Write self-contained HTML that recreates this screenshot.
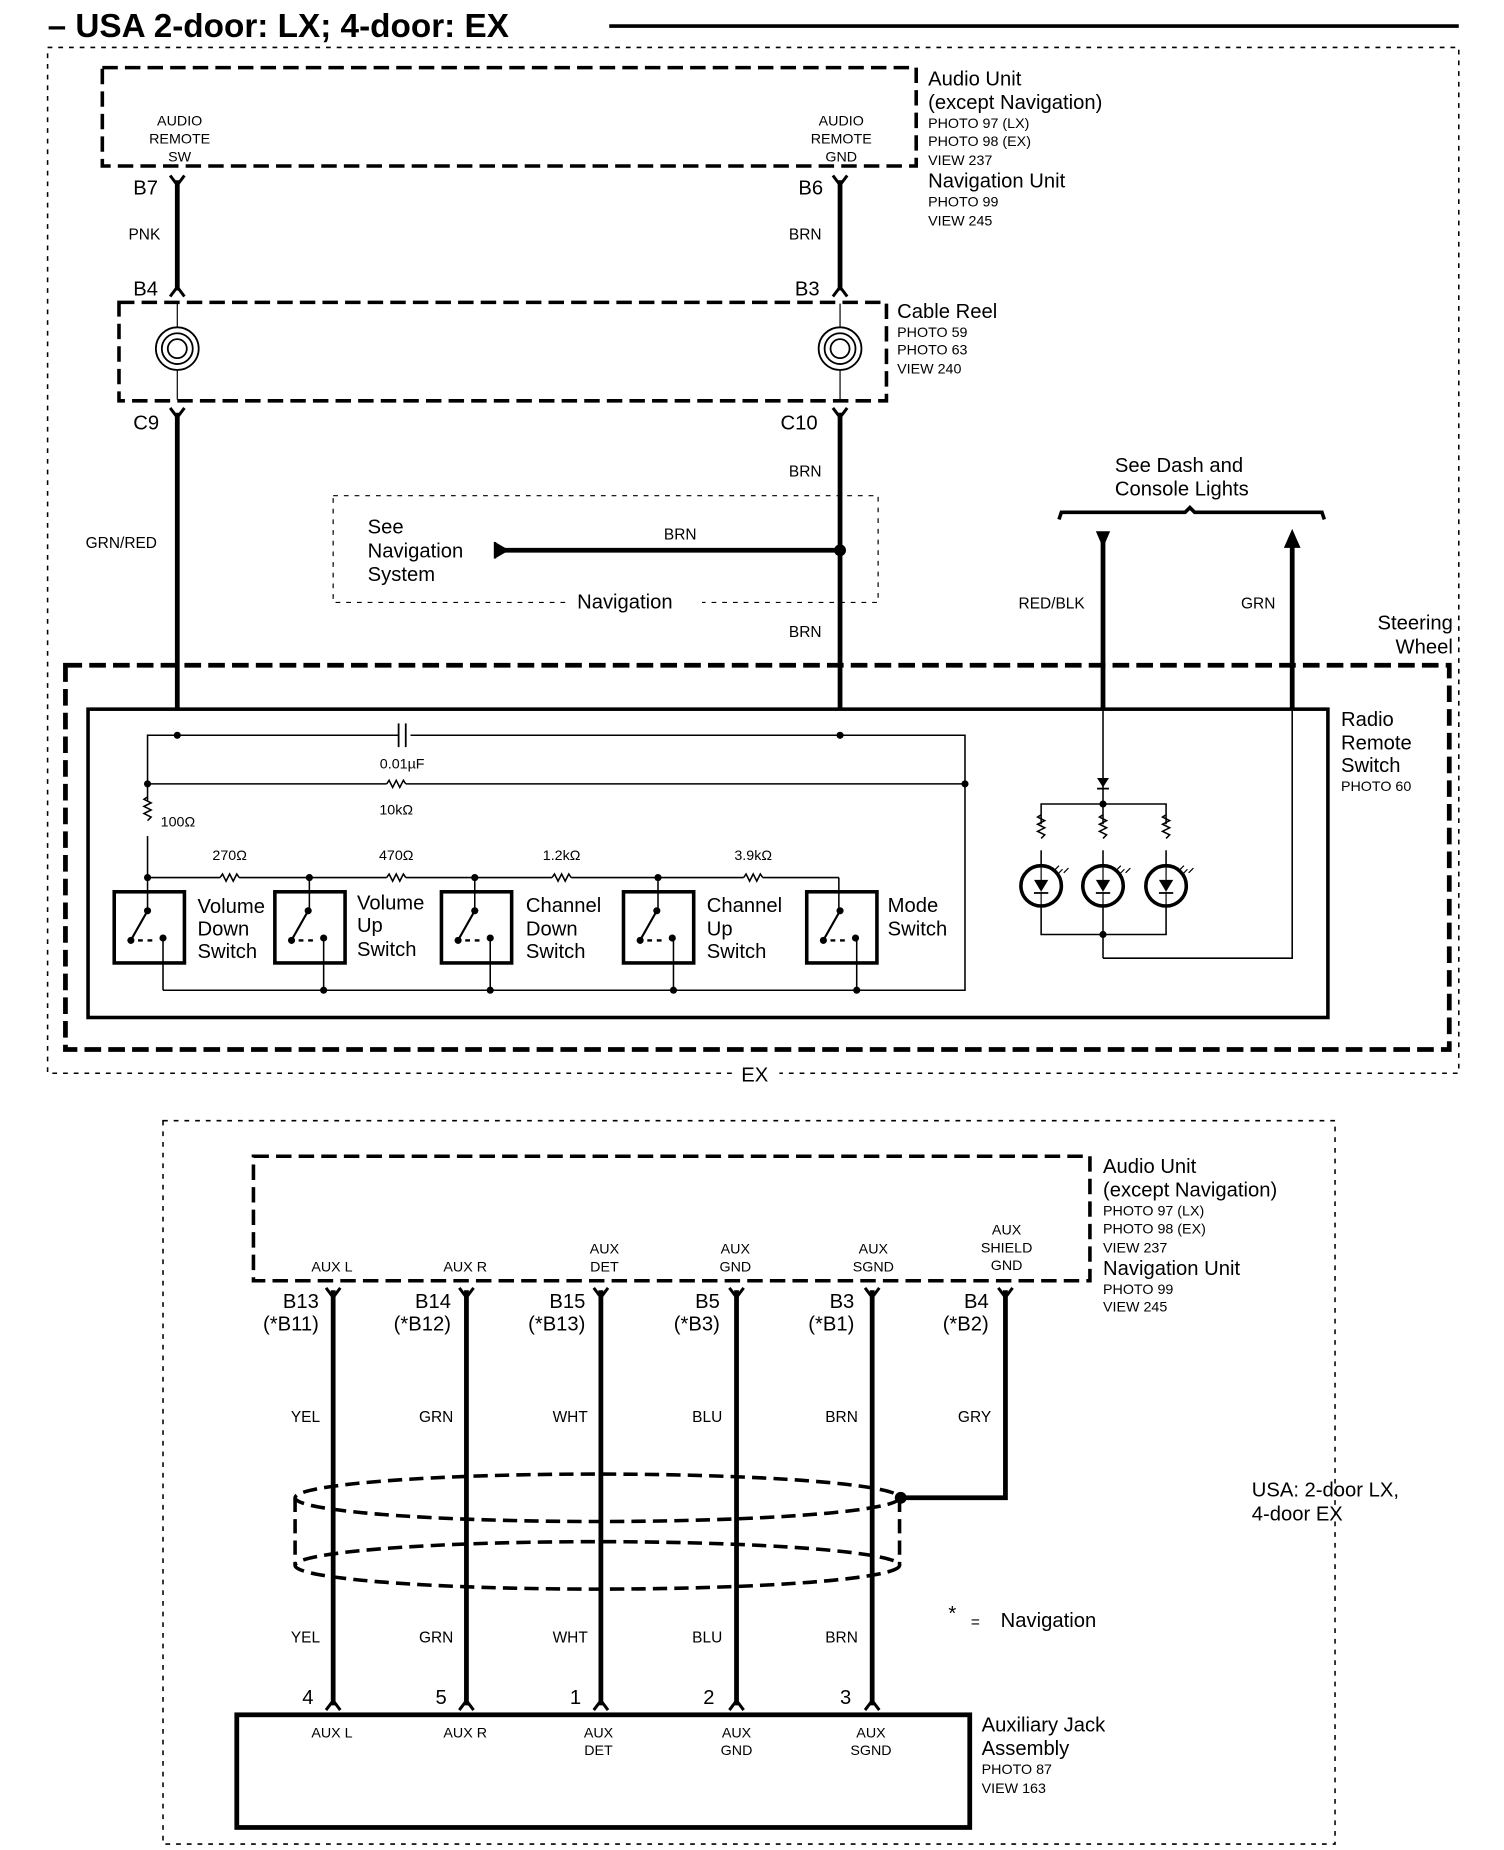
<!DOCTYPE html>
<html><head><meta charset="utf-8"><style>
html,body{margin:0;padding:0;background:#fff}
svg{display:block}
text{font-family:"Liberation Sans",sans-serif;fill:#000}
.s{font-size:12px}.m{font-size:13px}.l{font-size:17px}
</style></head><body>
<svg width="1504" height="1850" viewBox="0 0 1264 1560" preserveAspectRatio="none" xmlns="http://www.w3.org/2000/svg">
<defs>
<g id="sw">
<rect x="0" y="0" width="59" height="60" fill="none" stroke="#000" stroke-width="3"/>
<circle cx="28" cy="16" r="3"/><line x1="28" y1="16" x2="15" y2="39" stroke="#000" stroke-width="1.8"/>
<circle cx="14" cy="41" r="3"/><line x1="20" y1="41" x2="24" y2="41" stroke="#000" stroke-width="2"/><line x1="28" y1="41" x2="32" y2="41" stroke="#000" stroke-width="2"/>
<circle cx="41" cy="39" r="3"/>
</g>
<g id="spiral" fill="none" stroke="#000" stroke-width="1.5"><circle r="18"/><circle r="13"/><circle r="8"/></g>
<g id="led"><circle r="17" fill="none" stroke="#000" stroke-width="3"/><path d="M-6,-5 L6,-5 L0,5 Z"/><line x1="-6" y1="6" x2="6" y2="6" stroke="#000" stroke-width="1.5"/><line x1="0" y1="-17" x2="0" y2="-5" stroke="#000"/><line x1="0" y1="5" x2="0" y2="17" stroke="#000"/></g>
<path id="res" d="M-8,0 l2,-3 l3,6 l3,-6 l3,6 l3,-6 l2,3" fill="none" stroke="#000" stroke-width="1.3"/>
<path id="resv" d="M0,-10 l-3,2 l6,3 l-6,3 l6,3 l-6,3 l6,3 l-3,3" fill="none" stroke="#000" stroke-width="1.3"/>
<path id="ytop" d="M-6,-6 L0,2 L6,-6" fill="none" stroke="#000" stroke-width="2.5"/>
<path id="ybot" d="M-6,6 L0,-2 L6,6" fill="none" stroke="#000" stroke-width="2.5"/>
</defs>

<!-- title -->
<text x="40" y="31" style="font-size:28px;font-weight:bold">– USA 2-door: LX; 4-door: EX</text>
<line x1="512" y1="22" x2="1226" y2="22" stroke="#000" stroke-width="3"/>

<!-- outer dotted box -->
<path d="M40,40 H1226 V905 H655 M615,905 H40 V40" fill="none" stroke="#000" stroke-width="1.3" stroke-dasharray="4,5"/>
<text x="623" y="912" class="l">EX</text>

<!-- audio unit top -->
<rect x="86" y="57" width="684" height="83" fill="none" stroke="#000" stroke-width="3" stroke-dasharray="13,6"/>
<g class="s" text-anchor="middle"><text x="151" y="106">AUDIO</text><text x="151" y="121">REMOTE</text><text x="151" y="136">SW</text>
<text x="707" y="106">AUDIO</text><text x="707" y="121">REMOTE</text><text x="707" y="136">GND</text></g>
<text x="780" y="72" class="l">Audio Unit</text><text x="780" y="92" class="l">(except Navigation)</text>
<text x="780" y="108" class="s">PHOTO 97 (LX)</text><text x="780" y="123" class="s">PHOTO 98 (EX)</text><text x="780" y="139" class="s">VIEW 237</text>
<text x="780" y="158" class="l">Navigation Unit</text><text x="780" y="174" class="s">PHOTO 99</text><text x="780" y="190" class="s">VIEW 245</text>

<g stroke="#000" stroke-width="4"><line x1="149" y1="152" x2="149" y2="245"/><line x1="706" y1="152" x2="706" y2="245"/></g>
<use href="#ytop" x="149" y="154"/><use href="#ytop" x="706" y="154"/>
<use href="#ybot" x="149" y="244"/><use href="#ybot" x="706" y="244"/>
<text x="112" y="164" class="l">B7</text><text x="671" y="164" class="l">B6</text>
<text x="108" y="202" class="m">PNK</text><text x="663" y="202" class="m">BRN</text>
<text x="112" y="249" class="l">B4</text><text x="668" y="249" class="l">B3</text>

<!-- cable reel -->
<rect x="100" y="255" width="645" height="83" fill="none" stroke="#000" stroke-width="3" stroke-dasharray="13,6"/>
<use href="#spiral" x="149" y="294"/><use href="#spiral" x="706" y="294"/>
<g stroke="#000" stroke-width="1"><line x1="149" y1="256" x2="149" y2="276"/><line x1="149" y1="312" x2="149" y2="337"/><line x1="706" y1="256" x2="706" y2="276"/><line x1="706" y1="312" x2="706" y2="337"/></g>
<text x="754" y="268" class="l">Cable Reel</text><text x="754" y="284" class="s">PHOTO 59</text><text x="754" y="299" class="s">PHOTO 63</text><text x="754" y="315" class="s">VIEW 240</text>
<use href="#ytop" x="149" y="350"/><use href="#ytop" x="706" y="350"/>
<text x="112" y="362" class="l">C9</text><text x="656" y="362" class="l">C10</text>
<g stroke="#000" stroke-width="4"><line x1="149" y1="348" x2="149" y2="598"/><line x1="706" y1="348" x2="706" y2="598"/></g>
<text x="663" y="402" class="m">BRN</text><text x="72" y="462" class="m">GRN/RED</text><text x="663" y="537" class="m">BRN</text>

<!-- navigation box -->
<path d="M280,418 H738 V508 H590 M475,508 H280 V418" fill="none" stroke="#000" stroke-width="1" stroke-dasharray="4,5"/>
<text x="485" y="513" class="l">Navigation</text>
<text x="309" y="450" class="l">See</text><text x="309" y="470" class="l">Navigation</text><text x="309" y="490" class="l">System</text>
<line x1="420" y1="464" x2="706" y2="464" stroke="#000" stroke-width="4"/>
<path d="M416,457 L428,464 L416,471 Z"/><line x1="416" y1="457" x2="416" y2="471" stroke="#000" stroke-width="2"/>
<circle cx="706" cy="464" r="5"/>
<text x="558" y="455" class="m">BRN</text>

<!-- dash lights -->
<text x="937" y="398" class="l">See Dash and</text><text x="937" y="418" class="l">Console Lights</text>
<path d="M890,438 L892,432 H996 L1000,428 L1004,432 H1111 L1113,438" fill="none" stroke="#000" stroke-width="3"/>
<g stroke="#000" stroke-width="4"><line x1="927" y1="456" x2="927" y2="598"/><line x1="1086" y1="460" x2="1086" y2="598"/></g>
<path d="M921,448 L933,448 L927,462 Z"/><path d="M1079,462 L1093,462 L1086,446 Z"/>
<text x="856" y="513" class="m">RED/BLK</text><text x="1043" y="513" class="m">GRN</text>
<text x="1221" y="531" class="l" text-anchor="end">Steering</text><text x="1221" y="551" class="l" text-anchor="end">Wheel</text>

<!-- steering wheel box -->
<rect x="55" y="561" width="1163" height="324" fill="none" stroke="#000" stroke-width="4" stroke-dasharray="14,6"/>
<rect x="74" y="598" width="1042" height="260" fill="none" stroke="#000" stroke-width="3"/>
<text x="1127" y="612" class="l">Radio</text><text x="1127" y="632" class="l">Remote</text><text x="1127" y="651" class="l">Switch</text><text x="1127" y="667" class="s">PHOTO 60</text>

<!-- inner circuit -->
<g stroke="#000" stroke-width="1.3" fill="none">
<path d="M124,740 V620 H335 M345,620 H811 V835 H137"/>
<line x1="124" y1="661" x2="325" y2="661"/><line x1="341" y1="661" x2="811" y2="661"/>
<line x1="335" y1="610" x2="335" y2="630" stroke-width="1.5"/><line x1="341" y1="610" x2="341" y2="630" stroke-width="1.5"/>
<line x1="124" y1="740" x2="185" y2="740"/><line x1="201" y1="740" x2="325" y2="740"/><line x1="341" y1="740" x2="464" y2="740"/><line x1="480" y1="740" x2="625" y2="740"/><line x1="641" y1="740" x2="705" y2="740"/>
<line x1="705" y1="740" x2="705" y2="768"/>
<line x1="260" y1="740" x2="260" y2="768"/><line x1="399" y1="740" x2="399" y2="768"/><line x1="553" y1="740" x2="553" y2="768"/><line x1="124" y1="740" x2="124" y2="768"/>
<line x1="137" y1="790" x2="137" y2="835"/><line x1="272" y1="790" x2="272" y2="835"/><line x1="412" y1="790" x2="412" y2="835"/><line x1="566" y1="790" x2="566" y2="835"/><line x1="720" y1="790" x2="720" y2="835"/>
</g>
<rect x="120" y="675" width="8" height="30" fill="#fff"/><use href="#resv" x="124" y="682"/>
<use href="#res" x="333" y="661"/><use href="#res" x="193" y="740"/><use href="#res" x="333" y="740"/><use href="#res" x="472" y="740"/><use href="#res" x="633" y="740"/>
<g><circle cx="149" cy="620" r="3"/><circle cx="706" cy="620" r="3"/><circle cx="124" cy="661" r="3"/><circle cx="811" cy="661" r="3"/>
<circle cx="124" cy="740" r="3"/><circle cx="260" cy="740" r="3"/><circle cx="399" cy="740" r="3"/><circle cx="553" cy="740" r="3"/>
<circle cx="272" cy="835" r="3"/><circle cx="412" cy="835" r="3"/><circle cx="566" cy="835" r="3"/><circle cx="720" cy="835" r="3"/></g>
<text x="338" y="648" class="s" text-anchor="middle">0.01µF</text><text x="333" y="687" class="s" text-anchor="middle">10kΩ</text>
<text x="135" y="697" class="s">100Ω</text>
<g class="s" text-anchor="middle"><text x="193" y="725">270Ω</text><text x="333" y="725">470Ω</text><text x="472" y="725">1.2kΩ</text><text x="633" y="725">3.9kΩ</text></g>
<use href="#sw" x="96" y="752"/><use href="#sw" x="231" y="752"/><use href="#sw" x="371" y="752"/><use href="#sw" x="524" y="752"/><use href="#sw" x="678" y="752"/>
<g class="l"><text x="166" y="770">Volume</text><text x="166" y="789">Down</text><text x="166" y="808">Switch</text>
<text x="300" y="767">Volume</text><text x="300" y="786">Up</text><text x="300" y="806">Switch</text>
<text x="442" y="769">Channel</text><text x="442" y="789">Down</text><text x="442" y="808">Switch</text>
<text x="594" y="769">Channel</text><text x="594" y="789">Up</text><text x="594" y="808">Switch</text>
<text x="746" y="769">Mode</text><text x="746" y="789">Switch</text></g>

<!-- LEDs -->
<g stroke="#000" stroke-width="1.3" fill="none">
<line x1="927" y1="598" x2="927" y2="678"/>
<path d="M875,730 V678 H980 V730"/><line x1="927" y1="678" x2="927" y2="730"/>
<path d="M875,764 V788 H980 V764"/><line x1="927" y1="764" x2="927" y2="808"/>
<path d="M927,808 H1086 V598"/>
</g>
<path d="M922,656 L932,656 L927,664 Z"/><line x1="922" y1="665" x2="932" y2="665" stroke="#000" stroke-width="1.5"/>
<rect x="871" y="695" width="8" height="22" fill="#fff"/><rect x="923" y="695" width="8" height="22" fill="#fff"/><rect x="976" y="695" width="8" height="22" fill="#fff"/>
<use href="#resv" x="875" y="697"/><use href="#resv" x="927" y="697"/><use href="#resv" x="980" y="697"/>
<use href="#led" x="875" y="747"/><use href="#led" x="927" y="747"/><use href="#led" x="980" y="747"/>
<g stroke="#000" stroke-width="1"><path d="M889,737 l4,-4 m1,3 l4,-4 m-12,2 l4,-4"/><path d="M941,737 l4,-4 m1,3 l4,-4 m-12,2 l4,-4"/><path d="M994,737 l4,-4 m1,3 l4,-4 m-12,2 l4,-4"/></g>
<circle cx="927" cy="678" r="3"/><circle cx="927" cy="788" r="3"/>

<!-- bottom section -->
<rect x="137" y="945" width="985" height="610" fill="none" stroke="#000" stroke-width="1.3" stroke-dasharray="4,5"/>
<rect x="213" y="975" width="703" height="105" fill="none" stroke="#000" stroke-width="3" stroke-dasharray="13,6"/>
<text x="927" y="989" class="l">Audio Unit</text><text x="927" y="1009" class="l">(except Navigation)</text>
<text x="927" y="1025" class="s">PHOTO 97 (LX)</text><text x="927" y="1040" class="s">PHOTO 98 (EX)</text><text x="927" y="1056" class="s">VIEW 237</text>
<text x="927" y="1075" class="l">Navigation Unit</text><text x="927" y="1091" class="s">PHOTO 99</text><text x="927" y="1106" class="s">VIEW 245</text>
<g class="s" text-anchor="middle">
<text x="279" y="1072">AUX L</text><text x="391" y="1072">AUX R</text>
<text x="508" y="1057">AUX</text><text x="508" y="1072">DET</text>
<text x="618" y="1057">AUX</text><text x="618" y="1072">GND</text>
<text x="734" y="1057">AUX</text><text x="734" y="1072">SGND</text>
<text x="846" y="1041">AUX</text><text x="846" y="1056">SHIELD</text><text x="846" y="1071">GND</text>
</g>
<g stroke="#000" stroke-width="4" fill="none">
<line x1="280" y1="1088" x2="280" y2="1438"/><line x1="392" y1="1088" x2="392" y2="1438"/><line x1="505" y1="1088" x2="505" y2="1438"/>
<line x1="619" y1="1088" x2="619" y2="1438"/><line x1="733" y1="1088" x2="733" y2="1438"/>
<path d="M845,1088 V1263 H757"/>
</g>
<use href="#ytop" x="280" y="1092"/><use href="#ytop" x="392" y="1092"/><use href="#ytop" x="505" y="1092"/><use href="#ytop" x="619" y="1092"/><use href="#ytop" x="733" y="1092"/><use href="#ytop" x="845" y="1092"/>
<use href="#ybot" x="280" y="1436"/><use href="#ybot" x="392" y="1436"/><use href="#ybot" x="505" y="1436"/><use href="#ybot" x="619" y="1436"/><use href="#ybot" x="733" y="1436"/>
<g class="l" text-anchor="end">
<text x="268" y="1103">B13</text><text x="268" y="1122">(*B11)</text>
<text x="379" y="1103">B14</text><text x="379" y="1122">(*B12)</text>
<text x="492" y="1103">B15</text><text x="492" y="1122">(*B13)</text>
<text x="605" y="1103">B5</text><text x="605" y="1122">(*B3)</text>
<text x="718" y="1103">B3</text><text x="718" y="1122">(*B1)</text>
<text x="831" y="1103">B4</text><text x="831" y="1122">(*B2)</text>
</g>
<g class="m" text-anchor="end">
<text x="269" y="1199">YEL</text><text x="381" y="1199">GRN</text><text x="494" y="1199">WHT</text><text x="607" y="1199">BLU</text><text x="721" y="1199">BRN</text><text x="833" y="1199">GRY</text>
<text x="269" y="1385">YEL</text><text x="381" y="1385">GRN</text><text x="494" y="1385">WHT</text><text x="607" y="1385">BLU</text><text x="721" y="1385">BRN</text>
</g>
<!-- shield -->
<g fill="none" stroke="#000" stroke-width="3" stroke-dasharray="12,6">
<ellipse cx="502" cy="1263" rx="254" ry="20"/>
<ellipse cx="502" cy="1320" rx="254" ry="20"/>
<line x1="248" y1="1263" x2="248" y2="1320"/><line x1="756" y1="1263" x2="756" y2="1320"/>
</g>
<circle cx="757" cy="1263" r="5"/>
<g class="l"><text x="254" y="1437">4</text><text x="366" y="1437">5</text><text x="479" y="1437">1</text><text x="591" y="1437">2</text><text x="706" y="1437">3</text></g>
<rect x="199" y="1446" width="616" height="95" fill="none" stroke="#000" stroke-width="4"/>
<g class="s" text-anchor="middle">
<text x="279" y="1465">AUX L</text><text x="391" y="1465">AUX R</text>
<text x="503" y="1465">AUX</text><text x="503" y="1480">DET</text>
<text x="619" y="1465">AUX</text><text x="619" y="1480">GND</text>
<text x="732" y="1465">AUX</text><text x="732" y="1480">SGND</text>
</g>
<text x="825" y="1460" class="l">Auxiliary Jack</text><text x="825" y="1480" class="l">Assembly</text>
<text x="825" y="1496" class="s">PHOTO 87</text><text x="825" y="1512" class="s">VIEW 163</text>
<text x="797" y="1366" class="l">*</text><text x="816" y="1372" class="m">=</text><text x="841" y="1372" class="l">Navigation</text>
<text x="1052" y="1262" class="l">USA: 2-door LX,</text><text x="1052" y="1282" class="l">4-door EX</text>
</svg>
</body></html>
